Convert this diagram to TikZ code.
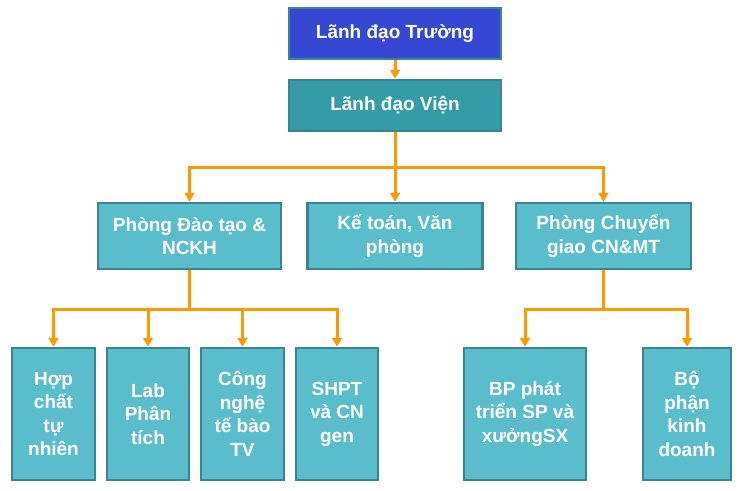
\documentclass[tikz,border=0pt]{standalone}
\usepackage{fontspec}
\setmainfont{Liberation Sans}
\usepackage{tikz}
\usetikzlibrary{arrows.meta}
\definecolor{truongBlue}{HTML}{3547D3}
\definecolor{vienTeal}{HTML}{339CA6}
\definecolor{boxTeal}{HTML}{59BDCB}
\definecolor{boxBorder}{HTML}{3B8592}
\definecolor{linkOrange}{HTML}{FF9900}
\tikzset{%
  >={Triangle[width=10pt,length=9pt]},
  base/.style = {rectangle, draw=boxBorder, line width=2.5pt,
      text=white, align=center,
      font=\bfseries\fontsize{19}{23.5}\selectfont},
  truong/.style = {base, fill=truongBlue, minimum width=212pt, minimum height=51pt},
  vien/.style = {base, fill=vienTeal, minimum width=212pt, minimum height=51pt},
  phong/.style = {base, fill=boxTeal, minimum width=175pt, minimum height=66pt},
  unit/.style = {base, fill=boxTeal, minimum width=83pt, minimum height=132pt},
  link/.style = {draw=linkOrange, line width=3pt},
}

\begin{document}
\begin{tikzpicture}[x=1pt, y=-1pt, node distance=72pt]
  \useasboundingbox (0,0) rectangle (743,490);
  % Specification of nodes (position, etc.)
  \node (lanhDaoTruong)   [truong] at (395,33.5)          {Lãnh đạo Trường};
  \node (lanhDaoVien)     [vien, below of=lanhDaoTruong]  {Lãnh đạo Viện};
  \node (keToan)          [phong, below of=lanhDaoVien, yshift=-58.5pt]
                                                  {Kế toán, Văn\\phòng};
  \node (phongDaoTao)     [phong, minimum width=183pt, left of=keToan, xshift=-133.5pt]
                                                  {Phòng Đào tạo \&\\NCKH};
  \node (phongChuyenGiao) [phong, right of=keToan, xshift=136.5pt]
                                                  {Phòng Chuyển\\giao CN\&MT};
  \node (hopChat)         [unit, below of=phongDaoTao, yshift=-106pt, xshift=-136pt]
                                                  {Hợp\\chất\\tự\\nhiên};
  \node (labPhanTich)     [unit, minimum width=82pt, right of=hopChat, xshift=22.5pt]
                                                  {Lab\\Phân\\tích};
  \node (congNghe)        [unit, right of=labPhanTich, xshift=22.5pt]
                                                  {Công\\nghệ\\tế bào\\TV};
  \node (shpt)            [unit, minimum width=82pt, right of=congNghe, xshift=22.5pt]
                                                  {SHPT\\và CN\\gen};
  \node (bpPhatTrien)     [unit, minimum width=122pt, below of=phongChuyenGiao,
                           yshift=-106pt, xshift=-78.5pt]
                                                  {BP phát\\triển SP và\\xưởngSX};
  \node (boPhanKD)        [unit, minimum width=88pt, right of=bpPhatTrien, xshift=90pt]
                                                  {Bộ\\phận\\kinh\\doanh};
  % branching points of the connectors
  \coordinate (busVien)       at (395,167);
  \coordinate (busDaoTao)     at (189.5,309);
  \coordinate (busChuyenGiao) at (603.5,309);
  % Specification of lines between nodes specified above
  \draw[link, ->]  (lanhDaoTruong) -- (lanhDaoVien);
  \draw[link, ->]    (lanhDaoVien) -- (keToan);
  \draw[link, ->]        (busVien) -| (phongDaoTao);
  \draw[link, ->]        (busVien) -| (phongChuyenGiao);
  \draw[link]        (phongDaoTao) -- (busDaoTao);
  \draw[link, ->]      (busDaoTao) -| (hopChat);
  \draw[link, ->]      (busDaoTao) -| (labPhanTich);
  \draw[link, ->]      (busDaoTao) -| (congNghe);
  \draw[link, ->]      (busDaoTao) -| (shpt);
  \draw[link]    (phongChuyenGiao) -- (busChuyenGiao);
  \draw[link, ->]  (busChuyenGiao) -| (bpPhatTrien);
  \draw[link, ->]  (busChuyenGiao) -| (boPhanKD);
\end{tikzpicture}
\end{document}
